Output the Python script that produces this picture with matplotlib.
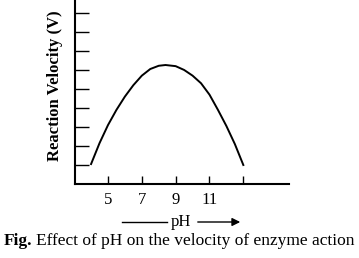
import matplotlib.pyplot as plt

plt.rcParams['font.family'] = ['Liberation Serif', 'DejaVu Serif']

# values (y in tick units)
ph = [4.0, 4.5, 5.0, 5.5, 6.0, 6.5, 7.0, 7.5, 8.0, 8.4, 9.0, 9.5, 10.0, 10.5, 11.0, 11.5, 12.0, 12.5, 13.0]
velocity = [1.05, 2.15, 3.1, 3.9, 4.6, 5.2, 5.7, 6.05, 6.22, 6.26, 6.2, 6.0, 5.7, 5.3, 4.7, 3.9, 3.05, 2.1, 1.0]
x_ticks = [5, 7, 9, 11, 13]
x_labels = ['5', '7', '9', '11', '']
y_ticks = [1, 2, 3, 4, 5, 6, 7, 8, 9]

fig = plt.figure(figsize=(3.59, 2.58), dpi=100)
ax = fig.add_axes([75/359, 74/258, 214/359, 184/258])

ax.plot(ph, velocity, color='black', lw=1.4)

ax.set_xlim(3.05, 15.7)
ax.set_ylim(0, 9.68)
ax.set_xticks(x_ticks)
ax.set_xticklabels(x_labels, fontsize=12)
ax.set_yticks(y_ticks)
ax.set_yticklabels([])
ax.tick_params(axis='x', direction='in', length=6, width=1, pad=6)
ax.tick_params(axis='y', direction='in', length=10, width=1)

for s in ['top', 'right']:
    ax.spines[s].set_visible(False)
for s in ['left', 'bottom']:
    ax.spines[s].set_linewidth(1.5)

fig.text(55/359, 1 - 86/258, 'Reaction Velocity (V)', rotation=90, fontsize=12,
         fontweight='bold', ha='center', va='center')

# pH arrow under the axis
y_arr = 1 - 222/258
fig.add_artist(plt.Line2D([122/359, 167/359], [y_arr, y_arr], color='black', lw=1))
fig.text(181/359, y_arr, 'pH', fontsize=12, ha='center', va='center')
ax.annotate('', xy=(243/359, y_arr), xytext=(195/359, y_arr), xycoords='figure fraction',
            arrowprops=dict(arrowstyle='-|>', color='black', lw=1, mutation_scale=12))

# caption: bold "Fig." then regular text
t1 = fig.text(4/359, 1 - 241/258, 'Fig.', fontsize=12.5, fontweight='bold', ha='left', va='center')
fig.canvas.draw()
bb = t1.get_window_extent()
fig.text((bb.x1 + 3)/359, 1 - 241/258, 'Effect of pH on the velocity of enzyme action',
         fontsize=12.5, ha='left', va='center')

fig.savefig('out.png', dpi=100)
